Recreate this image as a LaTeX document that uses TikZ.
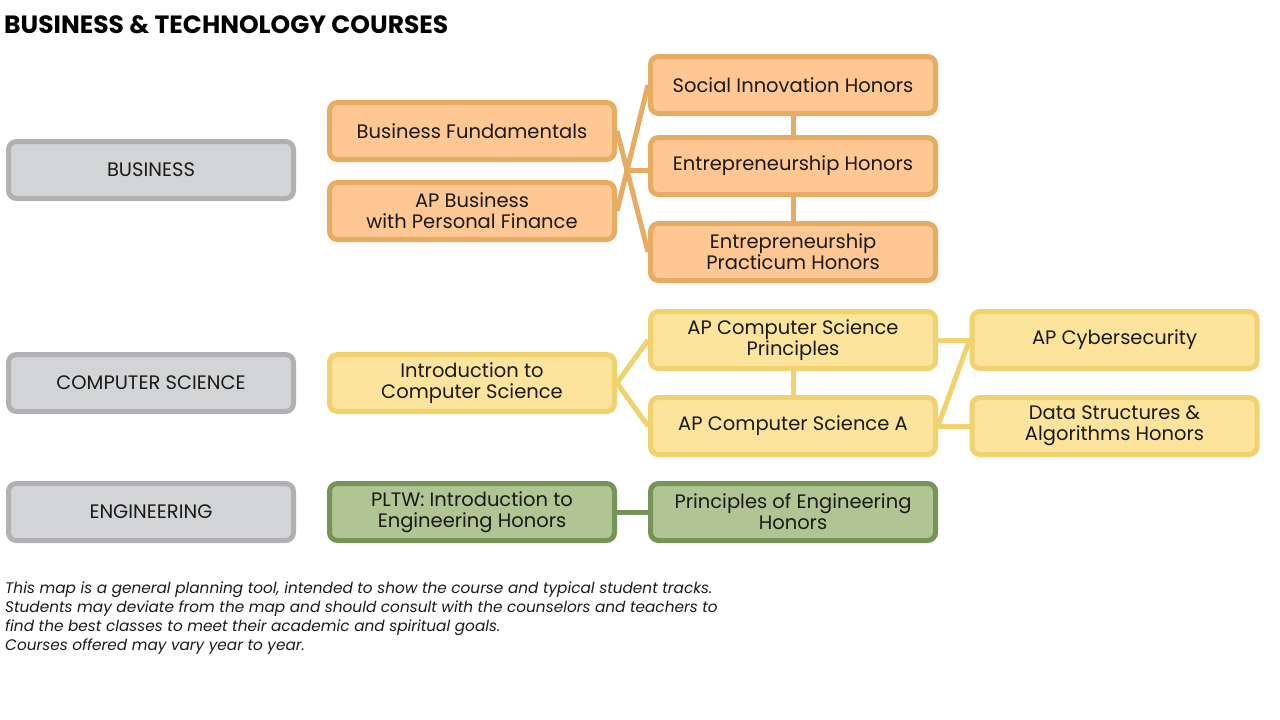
\documentclass[tikz,border=0pt]{standalone}
\usepackage{fontspec}
\setmainfont{Poppins}
\definecolor{grayfill}{HTML}{D3D4D6}
\definecolor{grayline}{HTML}{B1B1B3}
\definecolor{orfill}{HTML}{FEC794}
\definecolor{orline}{HTML}{E8AB62}
\definecolor{yefill}{HTML}{FDE49D}
\definecolor{yeline}{HTML}{F1D26E}
\definecolor{grfill}{HTML}{B0C593}
\definecolor{grline}{HTML}{76935A}
\definecolor{ink}{HTML}{1A1A1A}
\tikzset{
  course/.style={rectangle, rounded corners=8pt, line width=5pt, minimum width=285pt,
    minimum height=57pt, align=center, text=ink, inner sep=2pt,
    font=\fontsize{19.5}{21}\selectfont},
  cat/.style={course, draw=grayline, fill=grayfill},
  bizbox/.style={course, draw=orline, fill=orfill},
  csbox/.style={course, draw=yeline, fill=yefill},
  engbox/.style={course, draw=grline, fill=grfill},
  link/.style={line width=5pt}
}
\begin{document}
\begin{tikzpicture}[x=1pt,y=-1pt]
    \useasboundingbox (0,0) rectangle (1280,720);
    \node [anchor=base west, font=\fontsize{25}{30}\bfseries, text=black, inner sep=0pt] (title) at (4,33) {BUSINESS \& TECHNOLOGY COURSES};
    % categories
    \node [cat] (bus) at (151,170) {BUSINESS};
    \node [cat] (cs) at (151,383) {COMPUTER SCIENCE};
    \node [cat] (eng) at (151,512) {ENGINEERING};
    % business
    \node [bizbox] (bf) at (472,131) {Business Fundamentals};
    \node [bizbox] (apb) at (472,211) {AP Business\\with Personal Finance};
    \node [bizbox] (si) at (793,85) {Social Innovation Honors};
    \node [bizbox] (eh) at (793,166) {Entrepreneurship Honors};
    \node [bizbox] (prac) at (793,252) {Entrepreneurship\\Practicum Honors};
    \coordinate (x1) at (intersection of bf.east--prac.west and apb.east--si.west);
    \draw [link,orline] (bf.east) -- (prac.west);
    \draw [link,orline] (apb.east) -- (si.west);
    \draw [link,orline] (x1) -- (x1 -| eh.west);
    \draw [link,orline] (si) -- (eh);
    \draw [link,orline] (eh) -- (prac);
    % computer science
    \node [csbox] (intro) at (472,383) {Introduction to\\Computer Science};
    \node [csbox] (apcsp) at (793,340) {AP Computer Science\\Principles};
    \node [csbox] (apcsa) at (793,426) {AP Computer Science A};
    \node [csbox] (cyber) at (1114.5,340) {AP Cybersecurity};
    \node [csbox] (dsa) at (1114.5,426) {Data Structures \&\\Algorithms Honors};
    \draw [link,yeline] (intro.east) -- (apcsp.west);
    \draw [link,yeline] (intro.east) -- (apcsa.west);
    \draw [link,yeline] (apcsp) -- (apcsa);
    \draw [link,yeline] (apcsp.east) -- (cyber.west);
    \draw [link,yeline] (apcsa.east) -- (cyber.west);
    \draw [link,yeline] (apcsa.east) -- (dsa.west);
    % engineering
    \node [engbox] (pltw) at (472,512) {PLTW: Introduction to\\Engineering Honors};
    \node [engbox] (poe) at (793,512) {Principles of Engineering\\Honors};
    \draw [link,grline] (pltw) -- (poe);
    % note
    \node [anchor=north west, align=left, inner sep=0pt, text=ink,
      font=\fontsize{15.3}{19}\itshape] (note) at (5,582)
      {This map is a general planning tool, intended to show the course and typical student tracks.\\
       Students may deviate from the map and should consult with the counselors and teachers to\\
       find the best classes to meet their academic and spiritual goals.\\
       Courses offered may vary year to year.};
\end{tikzpicture}
\end{document}
